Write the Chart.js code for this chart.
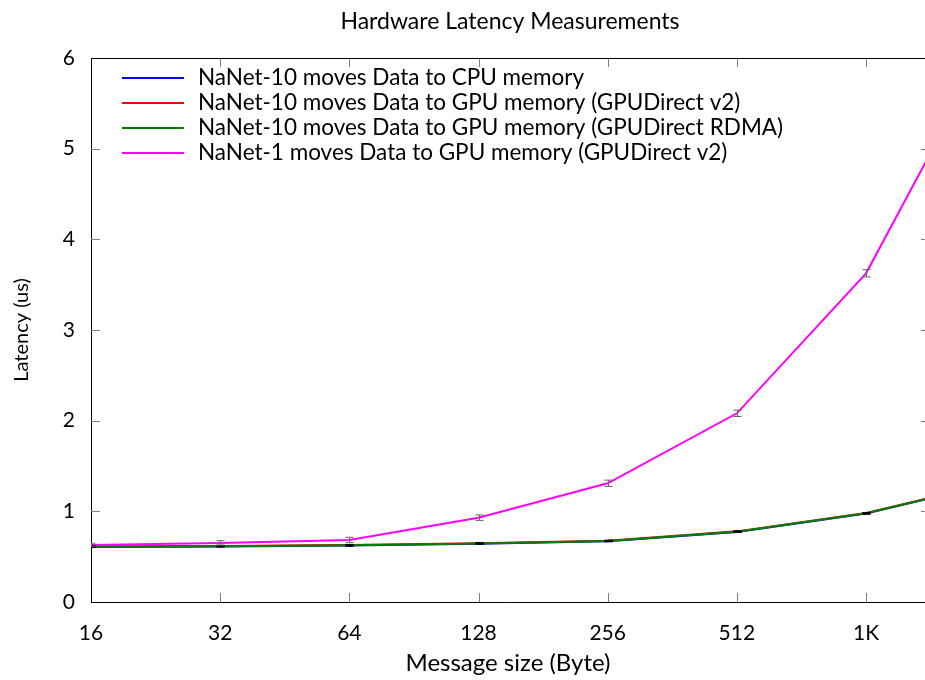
<!DOCTYPE html>
<html><head><meta charset="utf-8">
<script src="https://cdn.jsdelivr.net/npm/chart.js@4/dist/chart.umd.min.js"></script>
<style>html,body{margin:0;padding:0;background:#fff}#wrap{width:925px;height:680px}</style>
</head><body><div id="wrap"><canvas id="c" width="925" height="680"></canvas></div>
<script>
const titleText = 'Hardware Latency Measurements';
const xTitle = 'Message size (Byte)';
const yTitle = 'Latency (us)';
const sizes = [16, 32, 64, 128, 256, 512, 1024, 2048];
const tickLabels = ['16', '32', '64', '128', '256', '512', '1K', '2K'];
const seriesNames = [
  'NaNet-10 moves Data to CPU memory',
  'NaNet-10 moves Data to GPU memory (GPUDirect v2)',
  'NaNet-10 moves Data to GPU memory (GPUDirect RDMA)',
  'NaNet-1 moves Data to GPU memory (GPUDirect v2)'
];
const cpu10    = [0.606, 0.613, 0.622, 0.643, 0.670, 0.773, 0.975, 1.316];
const gpuV2_10 = [0.612, 0.619, 0.628, 0.649, 0.676, 0.779, 0.981, 1.322];
const rdma10   = [0.609, 0.616, 0.625, 0.646, 0.673, 0.776, 0.978, 1.320];
const gpuV2_1  = [0.629, 0.652, 0.684, 0.930, 1.309, 2.081, 3.625, 6.28];
const err10    = [0.006, 0.006, 0.006, 0.006, 0.006, 0.006, 0.006, 0.006];
const err1     = [0.02, 0.025, 0.03, 0.03, 0.035, 0.035, 0.04, 0.05];
const colors = ['#0000ff', '#ff0000', '#008000', '#ff00ff'];

const FONT = 'Lato, "Open Sans", sans-serif';

function pts(arr) { return sizes.map((s, i) => ({x: s, y: arr[i]})); }

const extras = {
  id: 'extras',
  afterDatasetsDraw(chart) {
    const {ctx, chartArea: a, scales: {x, y}} = chart;
    ctx.save();
    ctx.beginPath(); ctx.rect(a.left, a.top, a.right - a.left + 1, a.bottom - a.top); ctx.clip();
    // error bars
    const sets = [[cpu10, err10, '#000'], [gpuV2_10, err10, '#000'], [rdma10, err10, '#000'], [gpuV2_1, err1, '#666']];
    sets.forEach(([vals, errs, col]) => {
      ctx.strokeStyle = col; ctx.lineWidth = 1;
      sizes.forEach((s, i) => {
        const px = Math.round(x.getPixelForValue(s)) + 0.5;
        const y1 = y.getPixelForValue(vals[i] - errs[i]);
        const y2 = y.getPixelForValue(vals[i] + errs[i]);
        ctx.beginPath();
        ctx.moveTo(px, y1); ctx.lineTo(px, y2);
        ctx.moveTo(px - 4, y1); ctx.lineTo(px + 4, y1);
        ctx.moveTo(px - 4, y2); ctx.lineTo(px + 4, y2);
        ctx.stroke();
      });
    });
    ctx.restore();
    ctx.save();
    // inward ticks
    ctx.strokeStyle = '#808080'; ctx.lineWidth = 1;
    x.ticks.forEach(t => {
      const px = Math.round(x.getPixelForValue(t.value)) + 0.5;
      if (px <= a.left + 1) return;
      ctx.beginPath();
      ctx.moveTo(px, a.bottom); ctx.lineTo(px, a.bottom - 9);
      ctx.moveTo(px, a.top); ctx.lineTo(px, a.top + 9);
      ctx.stroke();
    });
    y.ticks.forEach(t => {
      const py = Math.round(y.getPixelForValue(t.value)) + 0.5;
      if (t.value === 0) return;
      ctx.beginPath();
      ctx.moveTo(a.left, py); ctx.lineTo(a.left + 9, py);
      ctx.moveTo(a.right, py); ctx.lineTo(a.right - 4, py);
      ctx.stroke();
    });
    // top border
    ctx.strokeStyle = '#000';
    ctx.beginPath(); ctx.moveTo(a.left, Math.round(a.top) + 0.5); ctx.lineTo(a.right, Math.round(a.top) + 0.5); ctx.stroke();
    // legend
    ctx.font = '22.5px ' + FONT;
    ctx.textBaseline = 'middle'; ctx.textAlign = 'left'; ctx.fillStyle = '#000';
    const rowY = [78, 103, 128, 153];
    chart.data.datasets.forEach((ds, i) => {
      ctx.strokeStyle = ds.borderColor; ctx.lineWidth = 2;
      ctx.beginPath(); ctx.moveTo(122, rowY[i]); ctx.lineTo(184, rowY[i]); ctx.stroke();
      ctx.fillText(ds.label, 198, rowY[i]);
    });
    // title
    ctx.font = '23px ' + FONT;
    ctx.textAlign = 'center';
    ctx.fillText(titleText, (a.left + a.right) / 2 + 2, 22);
    ctx.restore();
  }
};

new Chart(document.getElementById('c'), {
  type: 'line',
  data: {
    datasets: [
      {label: seriesNames[0], data: pts(cpu10), borderColor: colors[0], order: 3},
      {label: seriesNames[1], data: pts(gpuV2_10), borderColor: colors[1], order: 2},
      {label: seriesNames[2], data: pts(rdma10), borderColor: colors[2], order: 1},
      {label: seriesNames[3], data: pts(gpuV2_1), borderColor: colors[3], order: 0}
    ]
  },
  options: {
    responsive: false,
    animation: false,
    devicePixelRatio: 1,
    layout: {padding: {top: 58, right: 0, left: 0, bottom: 0}},
    elements: {line: {borderWidth: 2, tension: 0}, point: {radius: 0}},
    plugins: {legend: {display: false}, title: {display: false}, tooltip: {enabled: false}},
    scales: {
      x: {
        type: 'logarithmic', min: 16, max: 1405,
        afterBuildTicks(scale) { scale.ticks = sizes.filter(s => s <= scale.max).map(v => ({value: v})); },
        afterFit(scale) { scale.height = 78; },
        grid: {display: false, drawTicks: false},
        border: {display: true, color: '#000', width: 1},
        ticks: {autoSkip: false, maxRotation: 0, padding: 19, color: '#000', font: {family: FONT, size: 21},
          callback: (v) => tickLabels[sizes.indexOf(v)]},
        title: {display: true, text: xTitle, color: '#000', font: {family: FONT, size: 24}, padding: {top: 0, bottom: 2}}
      },
      y: {
        min: 0, max: 6,
        afterFit(scale) { scale.width = 91; },
        grid: {display: false, drawTicks: false},
        border: {display: true, color: '#000', width: 1},
        ticks: {stepSize: 1, padding: 16, color: '#000', font: {family: FONT, size: 21}},
        title: {display: true, text: yTitle, color: '#000', font: {family: FONT, size: 20}, padding: {top: 10, bottom: 0}}
      }
    }
  },
  plugins: [extras]
});
</script></body></html>
